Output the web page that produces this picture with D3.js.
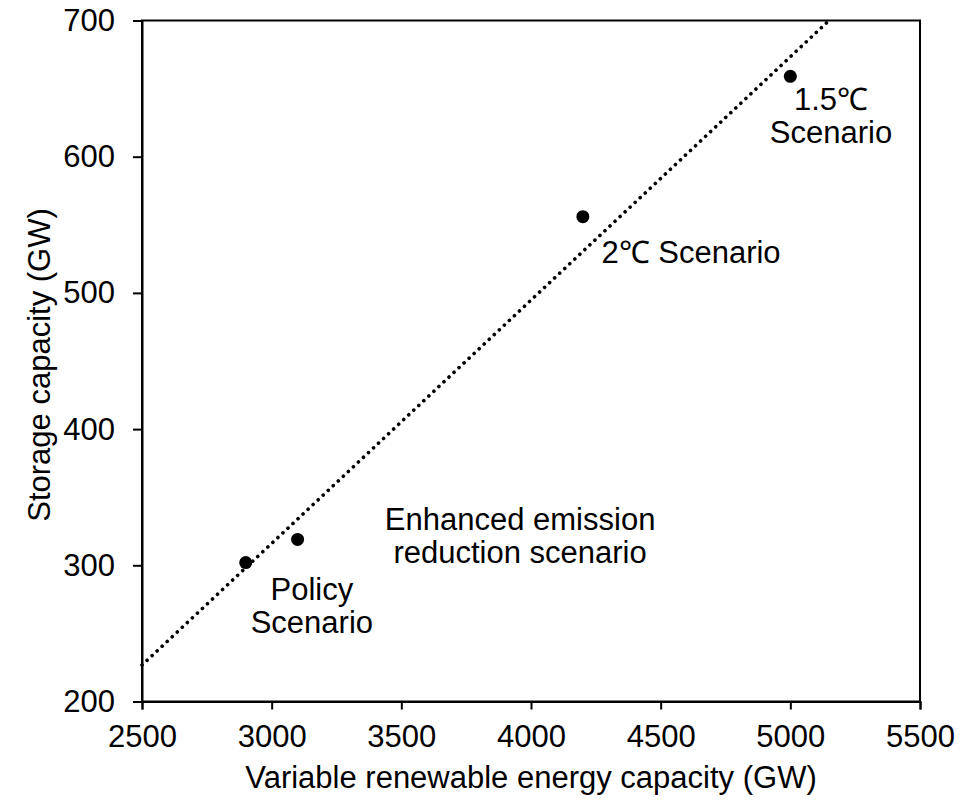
<!DOCTYPE html>
<html>
<head>
<meta charset="utf-8">
<script src="https://cdn.jsdelivr.net/npm/d3@7"></script>
<style>
  body { margin: 0; background: #fff; }
  text { font-family: "Liberation Sans", Arial, sans-serif; fill: #000; }
</style>
</head>
<body>
<div id="chart"></div>
<script>
// scenario points
let vreCapacity = [2900, 3100, 4200, 5000];
let storageCapacity = [302, 319, 556, 659];

let xTicks = [2500, 3000, 3500, 4000, 4500, 5000, 5500];
let yTicks = [200, 300, 400, 500, 600, 700];

// annotation labels: anchor (data units, first baseline) + lines
let labelX = [3155, 4617, 3958, 5157];
let labelY = [274.5, 522, 326, 634.3];
let labelLines = [
    ['Policy', 'Scenario'],
    ['2\u2103 Scenario'],
    ['Enhanced emission', 'reduction scenario'],
    ['1.5\u2103', 'Scenario']
];

let margin = {top: 20.5, right: 54, bottom: 99.5, left: 142};
let width = 974 - margin.left - margin.right;
let height = 801 - margin.top - margin.bottom;
let fontSize = 31;

let svg = d3.select('#chart')
    .append('svg')
    .attr('width', 974)
    .attr('height', 801)
    .append('g')
    .attr('transform', `translate(${margin.left}, ${margin.top})`);

let x = d3.scaleLinear().domain([2500, 5500]).range([0, width]);
let y = d3.scaleLinear().domain([200, 700]).range([height, 0]);

// frame (top + right)
svg.append('rect')
    .attr('x', 0).attr('y', 0)
    .attr('width', width).attr('height', height)
    .attr('fill', 'none')
    .attr('stroke', '#000')
    .attr('stroke-width', 2);

let xAxis = svg.append('g')
    .attr('transform', `translate(0, ${height})`)
    .call(d3.axisBottom(x).tickValues(xTicks).tickSize(8).tickPadding(15).tickFormat(d3.format('d')));

let yAxis = svg.append('g')
    .call(d3.axisLeft(y).tickValues(yTicks).tickSize(9).tickPadding(18).tickFormat(d3.format('d')));

[xAxis, yAxis].forEach(a => {
    a.select('.domain').attr('stroke-width', 2);
    a.selectAll('.tick line').attr('stroke-width', 2);
    a.selectAll('text').style('font-size', fontSize + 'px').attr('font-family', null);
});

// linear trend line (least squares on the points)
let mx = d3.mean(vreCapacity), my = d3.mean(storageCapacity);
let sxy = d3.sum(vreCapacity, (v, i) => (v - mx) * (storageCapacity[i] - my));
let sxx = d3.sum(vreCapacity, v => (v - mx) * (v - mx));
let slope = sxy / sxx;
let intercept = my - slope * mx;
let xEnd = Math.min(5500, (700 - intercept) / slope);
let trend = [[2500, slope * 2500 + intercept], [xEnd, slope * xEnd + intercept]];

svg.append('path')
    .datum(trend)
    .attr('d', d3.line().x(d => x(d[0])).y(d => y(d[1])))
    .attr('fill', 'none')
    .attr('stroke', '#000')
    .attr('stroke-width', 3.6)
    .attr('stroke-linecap', 'round')
    .attr('stroke-dasharray', '0.1 6.8');

svg.selectAll('circle.pt')
    .data(vreCapacity)
    .enter()
    .append('circle')
        .attr('class', 'pt')
        .attr('cx', d => x(d))
        .attr('cy', (d, i) => y(storageCapacity[i]))
        .attr('r', 6.5)
        .attr('fill', '#000');

// annotations
labelLines.forEach((lines, i) => {
    let t = svg.append('text')
        .attr('text-anchor', 'middle')
        .style('font-size', fontSize + 'px')
        .attr('x', x(labelX[i]))
        .attr('y', y(labelY[i]));
    lines.forEach((l, j) => {
        t.append('tspan')
            .attr('x', x(labelX[i]))
            .attr('dy', j === 0 ? 0 : 33)
            .text(l);
    });
});

// axis titles
svg.append('text')
    .attr('text-anchor', 'middle')
    .style('font-size', fontSize + 'px')
    .attr('x', width / 2)
    .attr('y', height + 86.5)
    .text('Variable renewable energy capacity (GW)');

svg.append('text')
    .attr('text-anchor', 'middle')
    .style('font-size', fontSize + 'px')
    .attr('transform', `translate(${50 - margin.left}, ${365 - margin.top}) rotate(-90)`)
    .text('Storage capacity (GW)');
</script>
</body>
</html>
